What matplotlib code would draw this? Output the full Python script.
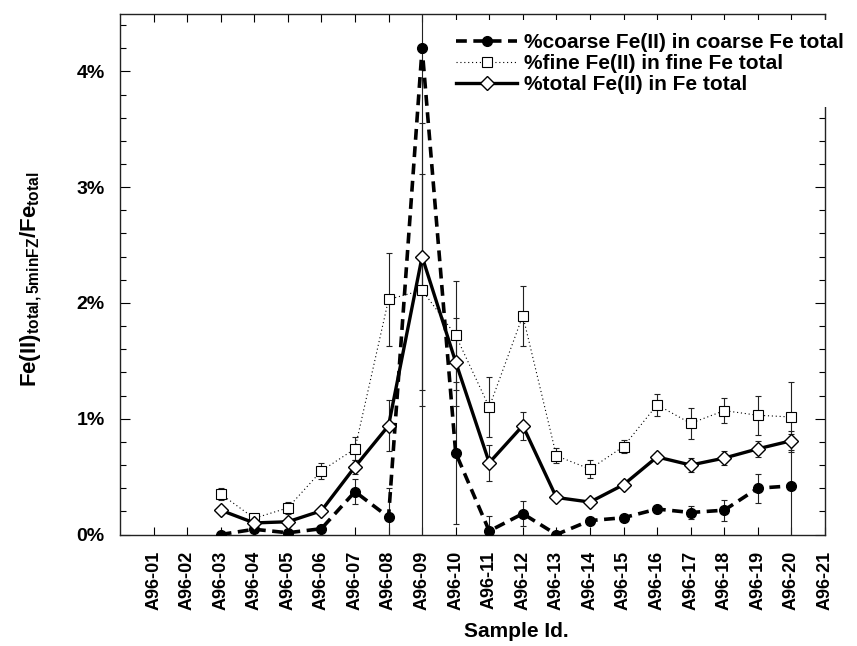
import numpy as np
import matplotlib
matplotlib.use('Agg')
from matplotlib import pyplot as plt
from matplotlib.ticker import MultipleLocator, FuncFormatter

# ----- data (percent) -----
samples = ['A96-01', 'A96-02', 'A96-03', 'A96-04', 'A96-05', 'A96-06', 'A96-07',
           'A96-08', 'A96-09', 'A96-10', 'A96-11', 'A96-12', 'A96-13', 'A96-14',
           'A96-15', 'A96-16', 'A96-17', 'A96-18', 'A96-19', 'A96-20', 'A96-21']
measured = samples[2:20]   # A96-03 .. A96-20

coarse = [0.00, 0.045, 0.015, 0.05, 0.37, 0.15, 4.20, 0.705, 0.03, 0.18,
          0.00, 0.12, 0.145, 0.22, 0.19, 0.21, 0.40, 0.42]
coarse_err = [0.00, 0.02, 0.00, 0.02, 0.11, 0.25, 4.40, 0.61, 0.13, 0.11,
              0.00, 0.02, 0.02, 0.03, 0.06, 0.09, 0.125, 0.45]
fine = [0.35, 0.14, 0.23, 0.55, 0.74, 2.03, 2.11, 1.72, 1.10, 1.89,
        0.68, 0.565, 0.76, 1.12, 0.96, 1.07, 1.03, 1.015]
fine_err = [0.05, 0.03, 0.05, 0.07, 0.10, 0.40, 1.00, 0.47, 0.26, 0.26,
            0.065, 0.075, 0.06, 0.095, 0.135, 0.11, 0.17, 0.30]
total = [0.21, 0.10, 0.11, 0.205, 0.585, 0.94, 2.40, 1.49, 0.62, 0.94,
         0.32, 0.28, 0.43, 0.67, 0.60, 0.66, 0.74, 0.81]
total_err = [0.03, 0.02, 0.03, 0.03, 0.06, 0.22, 1.15, 0.38, 0.155, 0.12,
             0.02, 0.02, 0.03, 0.03, 0.06, 0.06, 0.07, 0.08]

###########################################
plt.rcParams['font.family'] = ['Liberation Sans', 'DejaVu Sans']
plt.rcParams['font.weight'] = 'bold'
plt.rcParams['mathtext.fontset'] = 'custom'
plt.rcParams['mathtext.rm'] = 'Liberation Sans:bold'
plt.rcParams['mathtext.bf'] = 'Liberation Sans:bold'
plt.rcParams['mathtext.it'] = 'Liberation Sans:bold'
plt.rcParams['mathtext.default'] = 'rm'

fig = plt.figure(figsize=(8.57, 6.46), dpi=100)
ax = fig.add_axes([0.140, 0.1726, 0.8226, 0.8065])

xpos = [samples.index(s) + 1 for s in measured]

# error bars first (thin)
ebkw = dict(fmt='none', ecolor='#222222', elinewidth=0.8, capsize=2.5, capthick=0.8, zorder=2)
ax.errorbar(xpos, coarse, yerr=coarse_err, **ebkw)
ax.errorbar(xpos, fine, yerr=fine_err, **ebkw)
ax.errorbar(xpos, total, yerr=total_err, **ebkw)

ax.plot(xpos, coarse, color='k', lw=2.6, ls=(0, (3, 1.8)), marker='o', ms=7,
        mfc='k', mec='k', zorder=4, label='%coarse Fe(II) in coarse Fe total')
ax.plot(xpos, fine, color='k', lw=0.8, ls=(0, (1, 2.5)), marker='s', ms=7.5,
        mfc='white', mec='k', mew=0.8, zorder=3, label='%fine Fe(II) in fine Fe total')
ax.plot(xpos, total, color='k', lw=2.4, ls='-', marker='D', ms=7.5,
        mfc='white', mec='k', mew=1.0, zorder=5, label='%total Fe(II) in Fe total')

ax.set_xlim(0, 21)
ax.set_ylim(0, 4.5)
ax.set_xticks(range(1, 22))
ax.set_xticklabels(samples, rotation=90, fontsize=13, fontweight='bold')
ax.yaxis.set_major_locator(MultipleLocator(1))
ax.yaxis.set_minor_locator(MultipleLocator(0.2))
ax.yaxis.set_major_formatter(FuncFormatter(lambda v, p: '%d%%' % round(v)))
for t in ax.get_yticklabels():
    t.set_fontsize(14)
    t.set_fontweight('bold')

ax.tick_params(axis='both', which='both', direction='in', top=True, right=True, width=0.8)
ax.tick_params(axis='y', which='major', length=7, pad=11, labelsize=14)
ax.tick_params(axis='y', which='minor', length=4)
ax.tick_params(axis='x', which='major', length=6, pad=12)
for s in ax.spines.values():
    s.set_linewidth(1.0)
    s.set_color('#222222')

ax.set_xlabel('Sample Id.', fontsize=15, fontweight='bold')
ax.xaxis.set_label_coords((516 - 120) / 705.0, -(622 - 534.5) / 521.5)
ax.set_ylabel(r'$\mathbf{Fe(II)_{total,5minFZ}/Fe_{total}}$', fontsize=16)
ax.yaxis.set_label_coords(-(76 / 705.0), 0.49)

leg = ax.legend(loc='upper left', bbox_to_anchor=(0.4596, 0.9866), fontsize=15,
                frameon=True, fancybox=False, framealpha=1, facecolor='white',
                edgecolor='none', borderaxespad=0, borderpad=0.6, labelspacing=0.1,
                handlelength=2.9, handletextpad=0.35)
leg.set_zorder(6)
for t in leg.get_texts():
    t.set_fontweight('bold')

fig.savefig('out.png', dpi=100)
